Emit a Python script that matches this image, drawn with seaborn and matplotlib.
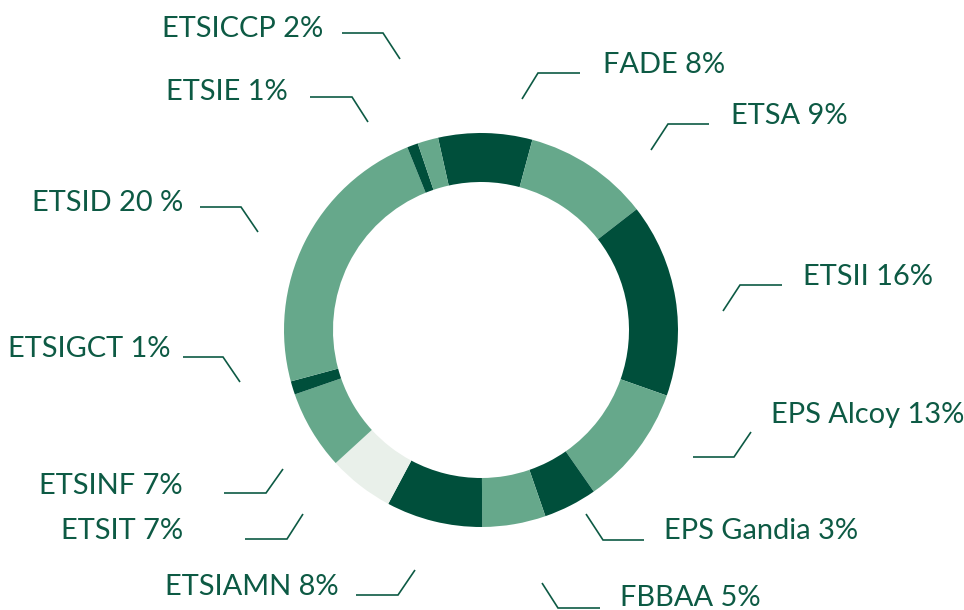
import matplotlib
matplotlib.use("Agg")
import matplotlib.pyplot as plt
import seaborn as sns

# Schools, the percentage text shown next to them, and the share each arc takes in the ring
schools = ["FADE", "ETSA", "ETSII", "EPS Alcoy", "EPS Gandia", "FBBAA", "ETSIAMN",
           "ETSIT", "ETSINF", "ETSIGCT", "ETSID", "ETSIE", "ETSICCP"]
pct_text = ["8%", "9%", "16%", "13%", "3%", "5%", "8%", "7%", "7%", "1%", "20 %", "1%", "2%"]
shares = [7.7, 10.3, 15.9, 9.9, 4.4, 5.2, 7.9, 5.4, 6.5, 1.1, 23.1, 0.9, 1.7]

# -------------------------------
# styling / layout
# -------------------------------
W, H = 964, 610
DARK, LIGHT, PALE = "#004f3b", "#66a88b", "#e9f0ea"
TEXT = "#0d5a44"
ring_colors = [DARK, LIGHT, DARK, LIGHT, DARK, LIGHT, DARK, PALE, LIGHT, DARK, LIGHT, DARK, LIGHT]

# label anchor (x, baseline y in px from top), alignment, leader polyline
label_layout = {
    "FADE": (603, 73, "left", [(580, 73), (538, 73), (522, 99)]),
    "ETSA": (731, 124, "left", [(709, 124), (668, 124), (651, 150)]),
    "ETSII": (803, 285, "left", [(782, 285), (740, 285), (723, 311)]),
    "EPS Alcoy": (771, 423, "left", [(693, 457), (734, 457), (751, 432)]),
    "EPS Gandia": (664, 539, "left", [(644, 540), (603, 540), (586, 514)]),
    "FBBAA": (620, 606, "left", [(600, 608), (558, 608), (542, 583)]),
    "ETSIAMN": (339, 595, "right", [(356, 595), (398, 595), (415, 570)]),
    "ETSIT": (183, 539, "right", [(245, 539), (287, 539), (303, 514)]),
    "ETSINF": (183, 494, "right", [(224, 493), (266, 493), (283, 469)]),
    "ETSIGCT": (171, 357, "right", [(183, 357), (223, 357), (240, 382)]),
    "ETSID": (183, 211, "right", [(200, 207), (241, 207), (258, 232)]),
    "ETSIE": (288, 100, "right", [(310, 97), (352, 97), (368, 122)]),
    "ETSICCP": (323, 37, "right", [(342, 33), (383, 33), (400, 59)]),
}

sns.set_style("white")
plt.rcParams["font.family"] = ["Lato", "DejaVu Sans"]

fig = plt.figure(figsize=(W / 100, H / 100), dpi=100)
ax = fig.add_axes([0, 0, 1, 1])

# donut ring
ax.pie(shares, colors=ring_colors, startangle=102.6, counterclock=False,
       radius=197, center=(481, H - 330),
       wedgeprops=dict(width=49, edgecolor="none", linewidth=0))

# labels with leader lines
for name, pct in zip(schools, pct_text):
    tx, ty, ha, pts = label_layout[name]
    ax.text(tx, H - ty, f"{name} {pct}", ha=ha, va="baseline",
            fontsize=20.9, color=TEXT)
    ax.plot([p[0] for p in pts], [H - p[1] for p in pts], color=TEXT, lw=1.2,
            solid_capstyle="butt", solid_joinstyle="miter")

ax.set_xlim(0, W)
ax.set_ylim(0, H)
ax.set_aspect("equal")
ax.axis("off")

fig.savefig("out.png", dpi=100, facecolor="white")
